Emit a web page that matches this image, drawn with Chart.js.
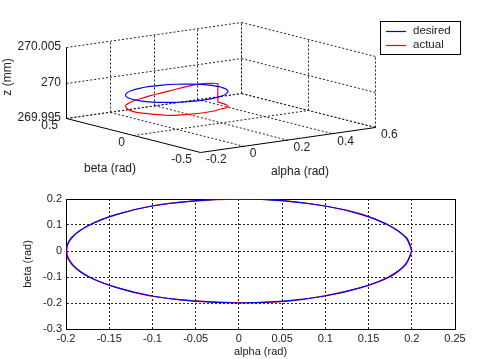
<!DOCTYPE html>
<html lang="en">
<head>
  <meta charset="UTF-8">
  <title>desired vs actual - alpha / beta / z</title>
  <script src="https://cdn.jsdelivr.net/npm/chart.js"></script>
  <style>
    body {
      margin: 0;
      background: #fff;
    }
    #wrap {
      position: relative;
      width: 500px;
      height: 359px;
    }
    #top, #bottom {
      position: absolute;
      left: 0;
    }
    #top { top: 0; }
    #bottom { top: 185px; }
  </style>
</head>
<body>
  <div id="wrap">
    <canvas id="top" width="500" height="185"></canvas>
    <canvas id="bottom" width="500" height="174"></canvas>
  </div>

  <script>
    // desired path, every 15 degrees
    const desiredAlpha = [0.2, 0.193, 0.173, 0.141, 0.1, 0.052, 0, -0.052, -0.1, -0.141, -0.173, -0.193, -0.2,
      -0.193, -0.173, -0.141, -0.1, -0.052, 0, 0.052, 0.1, 0.141, 0.173, 0.193, 0.2];
    const desiredBeta = [0, 0.052, 0.1, 0.141, 0.173, 0.193, 0.2, 0.193, 0.173, 0.141, 0.1, 0.052, 0,
      -0.052, -0.1, -0.141, -0.173, -0.193, -0.2, -0.193, -0.173, -0.141, -0.1, -0.052, 0];
    const desiredZ = 270;

    // actual path (starts a little after 0 deg, ends with the jump back up)
    const actualAlpha = [0.199, 0.194, 0.172, 0.142, 0.101, 0.051, 0.001, -0.053, -0.1, -0.142, -0.172, -0.194, -0.199,
      -0.192, -0.174, -0.14, -0.101, -0.051, 0.001, 0.053, 0.099, 0.142, 0.174, 0.192, 0.2, 0.199, 0.199];
    const actualBeta = [0.017, 0.051, 0.101, 0.142, 0.172, 0.194, 0.199, 0.192, 0.174, 0.14, 0.101, 0.051, -0.001,
      -0.053, -0.099, -0.142, -0.174, -0.192, -0.199, -0.194, -0.172, -0.14, -0.101, -0.053, 0.001, 0.017, 0.017];
    const actualZ = [270.0004, 270.0003, 270.0001, 269.9997, 269.9993, 269.9989, 269.9987, 269.9985, 269.9984,
      269.9984, 269.9985, 269.9984, 269.9983, 269.9983, 269.9983, 269.9982, 269.9982, 269.9982, 269.9982,
      269.9982, 269.9982, 269.998, 269.9979, 269.9978, 269.9978, 269.9978, 270.0004];

    const seriesLabels = ['desired', 'actual'];
    const seriesColors = ['#0000ff', '#ff0000'];

    // 3D axes
    const alphaTicks3d = [-0.2, 0, 0.2, 0.4, 0.6];
    const alphaLabels3d = ['-0.2', '0', '0.2', '0.4', '0.6'];
    const betaTicks3d = [-0.5, 0, 0.5];
    const betaLabels3d = ['-0.5', '0', '0.5'];
    const zTicks = [269.995, 270, 270.005];
    const zLabels = ['269.995', '270', '270.005'];

    // 2D axes
    const alphaTicks2d = [-0.2, -0.15, -0.1, -0.05, 0, 0.05, 0.1, 0.15, 0.2, 0.25];
    const alphaLabels2d = ['-0.2', '-0.15', '-0.1', '-0.05', '0', '0.05', '0.1', '0.15', '0.2', '0.25'];
    const betaTicks2d = [-0.3, -0.2, -0.1, 0, 0.1, 0.2];
    const betaLabels2d = ['-0.3', '-0.2', '-0.1', '0', '0.1', '0.2'];

    const TXT = '#222';
    const FONT = 'Liberation Sans, Arial, sans-serif';

    const aMin = alphaTicks3d[0], aMax = alphaTicks3d[alphaTicks3d.length - 1];
    const bMin = betaTicks3d[0], bMax = betaTicks3d[betaTicks3d.length - 1];
    const zMin = zTicks[0], zMax = zTicks[zTicks.length - 1];

    // oblique view of the box, in canvas units
    function project(a, b, z) {
      const ua = (a - aMin) / (aMax - aMin);
      const ub = (bMax - b) / (bMax - bMin);
      const uz = (z - zMin) / (zMax - zMin);
      return { x: 66 + ua * 175 + ub * 134, y: 118 - ua * 25 + ub * 34 - uz * 71 };
    }

    function line(ctx, p, q, dash) {
      ctx.save();
      ctx.strokeStyle = dash ? '#222' : '#000';
      ctx.lineWidth = 1;
      ctx.setLineDash(dash ? [2, 2] : []);
      ctx.beginPath();
      ctx.moveTo(p[0], p[1]);
      ctx.lineTo(q[0], q[1]);
      ctx.stroke();
      ctx.restore();
    }

    function text(ctx, s, x, y, align, rot) {
      ctx.save();
      ctx.fillStyle = TXT;
      ctx.textAlign = align || 'center';
      ctx.textBaseline = 'middle';
      ctx.translate(x, y);
      if (rot) ctx.rotate(rot);
      ctx.fillText(s, 0, 0);
      ctx.restore();
    }

    const legendBox = {
      id: 'legendBox',
      afterDraw(chart, args, opts) {
        const ctx = chart.ctx;
        const x = opts.x, y = opts.y, w = opts.w, h = opts.h;
        ctx.save();
        ctx.fillStyle = '#fff';
        ctx.fillRect(x, y, w, h);
        ctx.strokeStyle = '#000';
        ctx.lineWidth = 1;
        ctx.setLineDash([]);
        ctx.strokeRect(x + 0.5, y + 0.5, w, h);
        ctx.font = '11.5px ' + FONT;
        seriesLabels.forEach((lab, i) => {
          const ly = y + 9.5 + i * 14.5;
          ctx.beginPath();
          ctx.strokeStyle = seriesColors[i];
          ctx.lineWidth = 1.2;
          ctx.moveTo(x + 6, Math.round(ly) + 0.5);
          ctx.lineTo(x + 26, Math.round(ly) + 0.5);
          ctx.stroke();
          text(ctx, lab, x + 33, ly, 'left');
        });
        ctx.restore();
      }
    };

    const box3d = {
      id: 'box3d',
      beforeDatasetsDraw(chart) {
        const ctx = chart.ctx;
        const sx = chart.scales.x, sy = chart.scales.y;
        const P = (a, b, z) => {
          const p = project(a, b, z);
          return [Math.round(sx.getPixelForValue(p.x)) + 0.5, Math.round(sy.getPixelForValue(p.y)) + 0.5];
        };
        zTicks.forEach(z => {
          line(ctx, P(aMin, bMax, z), P(aMax, bMax, z), true);
          line(ctx, P(aMax, bMax, z), P(aMax, bMin, z), true);
        });
        alphaTicks3d.forEach(a => {
          if (a === aMin) return;
          line(ctx, P(a, bMax, zMin), P(a, bMax, zMax), true);
          line(ctx, P(a, bMax, zMin), P(a, bMin, zMin), true);
        });
        betaTicks3d.forEach(b => {
          line(ctx, P(aMax, b, zMin), P(aMax, b, zMax), true);
          if (b !== bMin) line(ctx, P(aMin, b, zMin), P(aMax, b, zMin), true);
        });
        line(ctx, P(aMin, bMax, zMin), P(aMin, bMax, zMax), false);
        line(ctx, P(aMin, bMax, zMin), P(aMin, bMin, zMin), false);
        line(ctx, P(aMin, bMin, zMin), P(aMax, bMin, zMin), false);
      },
      afterDatasetsDraw(chart) {
        const ctx = chart.ctx;
        const sx = chart.scales.x, sy = chart.scales.y;
        const P = (a, b, z) => {
          const p = project(a, b, z);
          return [sx.getPixelForValue(p.x), sy.getPixelForValue(p.y)];
        };
        ctx.save();
        ctx.font = '12px ' + FONT;
        zTicks.forEach((z, i) => {
          const p = P(aMin, bMax, z);
          text(ctx, zLabels[i], p[0] - 5, p[1], 'right');
        });
        betaTicks3d.forEach((b, i) => {
          const p = P(aMin, b, zMin);
          text(ctx, betaLabels3d[i], p[0] - 8, p[1] + 8, 'right');
        });
        alphaTicks3d.forEach((a, i) => {
          const p = P(a, bMin, zMin);
          text(ctx, alphaLabels3d[i], p[0] + 6, p[1] + 8, 'left');
        });
        text(ctx, 'beta (rad)', 110, 169);
        text(ctx, 'alpha (rad)', 300, 172);
        text(ctx, 'z (mm)', 8, 77, 'center', -Math.PI / 2);
        ctx.restore();
      }
    };

    const pts3d = (as, bs, zs) => as.map((a, i) => project(a, bs[i], Array.isArray(zs) ? zs[i] : zs));
    const pts2d = (as, bs) => as.map((a, i) => ({ x: a, y: bs[i] }));

    new Chart(document.getElementById('top'), {
      type: 'scatter',
      data: {
        datasets: [
          { label: seriesLabels[0], data: pts3d(desiredAlpha, desiredBeta, desiredZ), borderColor: seriesColors[0], showLine: true, pointRadius: 0, borderWidth: 1.2, tension: 0.35 },
          { label: seriesLabels[1], data: pts3d(actualAlpha, actualBeta, actualZ), borderColor: seriesColors[1], showLine: true, pointRadius: 0, borderWidth: 1.2, tension: 0.3 }
        ]
      },
      options: {
        responsive: false,
        animation: false,
        events: [],
        layout: { padding: 0 },
        plugins: {
          legend: { display: false },
          tooltip: { enabled: false },
          legendBox: { x: 380, y: 21, w: 80, h: 33 }
        },
        scales: {
          x: { type: 'linear', min: 0, max: 500, display: false },
          y: { type: 'linear', min: 0, max: 185, reverse: true, display: false }
        }
      },
      plugins: [box3d, legendBox]
    });

    const frame = {
      id: 'frame',
      beforeDatasetsDraw(chart) {
        const { left, top, right, bottom } = chart.chartArea;
        const ctx = chart.ctx;
        ctx.save();
        ctx.strokeStyle = '#000';
        ctx.lineWidth = 1;
        ctx.setLineDash([]);
        ctx.strokeRect(Math.round(left) + 0.5, Math.round(top) + 0.5, Math.round(right - left), Math.round(bottom - top));
        ctx.restore();
      }
    };

    const tickFont = { family: FONT, size: 11 };

    new Chart(document.getElementById('bottom'), {
      type: 'scatter',
      data: {
        datasets: [
          { label: seriesLabels[0], data: pts2d(desiredAlpha, desiredBeta), borderColor: seriesColors[0], showLine: true, pointRadius: 0, borderWidth: 1.2, tension: 0.35 },
          { label: seriesLabels[1], data: pts2d(actualAlpha, actualBeta), borderColor: seriesColors[1], showLine: true, pointRadius: 0, borderWidth: 1.2, tension: 0.3 }
        ]
      },
      options: {
        responsive: false,
        animation: false,
        events: [],
        layout: { padding: { left: 0, right: 45, top: 14, bottom: 0 } },
        plugins: {
          legend: { display: false },
          tooltip: { enabled: false },
          legendBox: { x: 368, y: 205, w: 81, h: 33 }
        },
        scales: {
          x: {
            type: 'linear',
            min: alphaTicks2d[0],
            max: alphaTicks2d[alphaTicks2d.length - 1],
            afterBuildTicks: s => { s.ticks = alphaTicks2d.map(v => ({ value: v })); },
            afterFit: s => { s.height = 30; },
            ticks: {
              callback: v => alphaLabels2d[alphaTicks2d.indexOf(v)],
              font: tickFont, color: TXT, padding: 3, maxRotation: 0, autoSkip: false
            },
            grid: { color: '#222', lineWidth: 1, drawTicks: false },
            border: { display: true, color: '#000', dash: [2, 2] },
            title: { display: true, text: 'alpha (rad)', font: tickFont, color: TXT, padding: 0 }
          },
          y: {
            type: 'linear',
            min: betaTicks2d[0],
            max: betaTicks2d[betaTicks2d.length - 1],
            afterBuildTicks: s => { s.ticks = betaTicks2d.map(v => ({ value: v })); },
            afterFit: s => { s.width = 66; },
            ticks: {
              callback: v => betaLabels2d[betaTicks2d.indexOf(v)],
              font: tickFont, color: TXT, padding: 4, autoSkip: false
            },
            grid: { color: '#222', lineWidth: 1, drawTicks: false },
            border: { display: true, color: '#000', dash: [2, 2] },
            title: { display: true, text: 'beta (rad)', font: tickFont, color: TXT, padding: { top: 21, bottom: 0 } }
          }
        }
      },
      plugins: [frame, legendBox]
    });
  </script>
</body>
</html>
